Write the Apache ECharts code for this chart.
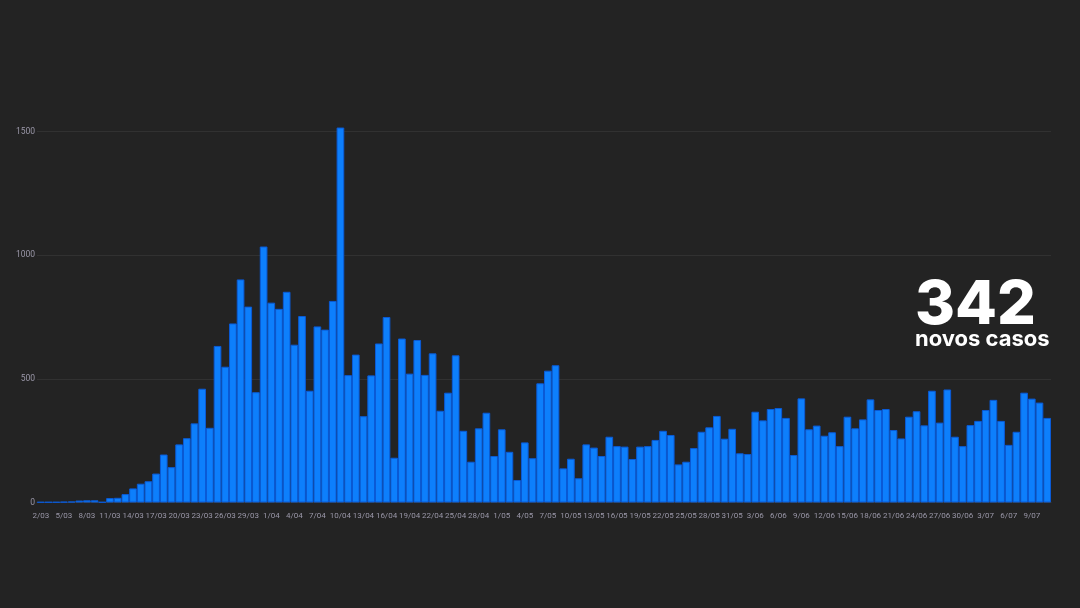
<!DOCTYPE html>
<html>
<head>
<meta charset="utf-8">
<script src="https://cdn.jsdelivr.net/npm/echarts@6/dist/echarts.min.js"></script>
<style>
html,body{margin:0;padding:0;background:#232323;}
#c{width:1080px;height:608px;}
</style>
</head>
<body>
<div id="c"></div>
<script>
const categories = [
'2/03','3/03','4/03','5/03','6/03','7/03','8/03','9/03','10/03','11/03','12/03','13/03','14/03','15/03','16/03','17/03','18/03','19/03','20/03','21/03','22/03','23/03','24/03','25/03','26/03','27/03','28/03','29/03','30/03','31/03',
'1/04','2/04','3/04','4/04','5/04','6/04','7/04','8/04','9/04','10/04','11/04','12/04','13/04','14/04','15/04','16/04','17/04','18/04','19/04','20/04','21/04','22/04','23/04','24/04','25/04','26/04','27/04','28/04','29/04','30/04',
'1/05','2/05','3/05','4/05','5/05','6/05','7/05','8/05','9/05','10/05','11/05','12/05','13/05','14/05','15/05','16/05','17/05','18/05','19/05','20/05','21/05','22/05','23/05','24/05','25/05','26/05','27/05','28/05','29/05','30/05','31/05',
'1/06','2/06','3/06','4/06','5/06','6/06','7/06','8/06','9/06','10/06','11/06','12/06','13/06','14/06','15/06','16/06','17/06','18/06','19/06','20/06','21/06','22/06','23/06','24/06','25/06','26/06','27/06','28/06','29/06','30/06',
'1/07','2/07','3/07','4/07','5/07','6/07','7/07','8/07','9/07','10/07','11/07'
];
const newCases = [
2,2,2,3,4,8,9,9,2,18,19,34,57,76,86,117,194,143,235,260,320,460,302,633,549,724,902,792,446,1035,
808,783,852,638,754,452,712,699,815,1516,515,598,349,514,643,750,181,663,521,657,516,603,371,444,595,290,165,300,363,188,
296,205,91,243,179,482,533,555,138,177,98,235,222,188,266,228,226,176,226,228,253,290,273,154,165,220,286,304,350,258,298,
199,196,367,332,378,382,342,192,421,296,311,270,284,228,347,300,336,417,374,378,293,259,347,369,312,452,323,457,266,228,
313,330,374,415,330,233,286,444,420,404,342
];
const yTicks = [0, 500, 1000, 1500];
const headline = '342';
const subline = 'novos casos';

const chart = echarts.init(document.getElementById('c'), null, {renderer: 'canvas'});
chart.setOption({
  backgroundColor: '#232323',
  animation: false,
  grid: {left: 37, right: 29, top: 131.5, bottom: 105.5, containLabel: false},
  xAxis: {
    type: 'category',
    data: categories,
    axisLine: {show: true, lineStyle: {color: '#3a3a3a'}},
    axisTick: {show: false},
    axisLabel: {interval: 2, color: '#9a97a8', fontSize: 8, fontFamily: 'Roboto', margin: 9}
  },
  yAxis: {
    type: 'value',
    min: yTicks[0],
    max: yTicks[yTicks.length - 1],
    interval: 500,
    axisLine: {show: false},
    axisTick: {show: false},
    axisLabel: {color: '#9a97a8', fontSize: 8.5, fontFamily: 'Roboto', margin: 2, formatter: function (v) { return String(v); }},
    splitLine: {lineStyle: {color: '#313131', width: 1}}
  },
  series: [{
    type: 'bar',
    data: newCases,
    clip: false,
    barCategoryGap: '0%',
    itemStyle: {color: '#0d7ffc', borderColor: '#0a5ad6', borderWidth: 1}
  }],
  graphic: [
    {type: 'text', left: 915, top: 275, style: {text: headline, fill: '#ffffff', font: '800 61px Inter'}},
    {type: 'text', left: 915, top: 328, style: {text: subline, fill: '#ffffff', font: '700 22px Inter'}}
  ]
});
</script>
</body>
</html>
